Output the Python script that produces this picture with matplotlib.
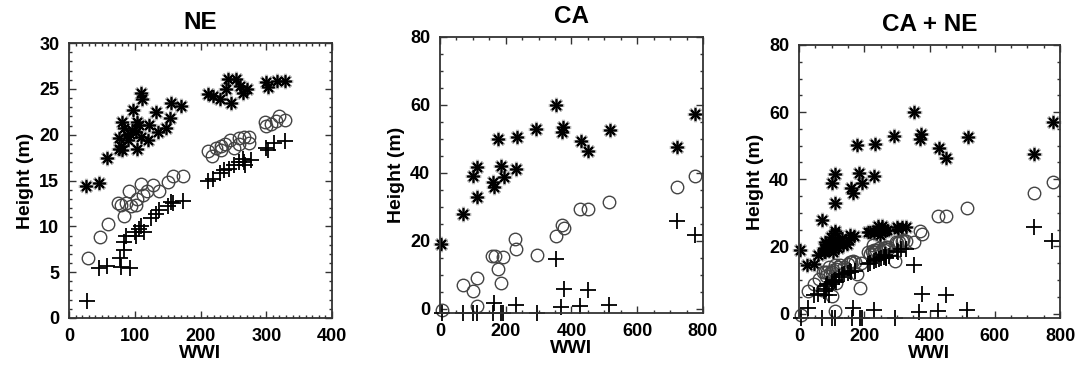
import matplotlib.pyplot as plt
from matplotlib.ticker import MultipleLocator

plt.rcParams['font.family'] = ['Liberation Sans', 'DejaVu Sans']
plt.rcParams['font.weight'] = 'bold'

# NE site
ne_star_x = [26, 45, 57, 76, 81, 104, 109, 111, 98, 132, 155, 170, 154, 148, 135, 122, 81, 84,
             107, 102, 109, 120, 76, 79, 92, 89, 96, 104, 88,
             211, 219, 229, 247, 239, 254, 260, 270, 265, 242, 300, 303, 316, 328]
ne_star_y = [14.4, 14.7, 17.5, 18.4, 18.3, 18.4, 24.6, 23.9, 22.7, 22.5, 23.5, 23.1, 21.8, 20.7, 20.3, 21.1, 21.4, 20.7,
             21.1, 20.3, 19.8, 19.4, 19.6, 18.8, 20.1, 19.4, 20.5, 21.4, 20.0,
             24.4, 24.2, 23.9, 23.5, 25.0, 26.1, 25.3, 25.0, 24.6, 26.1, 25.7, 25.2, 25.9, 25.9]
ne_circ_x = [29, 47, 60, 84, 79, 86, 91, 109, 104, 112, 102, 119, 127, 137, 150, 158, 173, 94, 74,
             211, 217, 224, 231, 237, 245, 251, 259, 266, 274, 273, 259, 231,
             300, 307, 298, 315, 328, 320]
ne_circ_y = [6.6, 8.8, 10.3, 11.1, 12.3, 12.5, 13.9, 14.6, 13.0, 13.4, 12.3, 13.9, 14.5, 13.9, 14.8, 15.5, 15.5, 12.2, 12.5,
             18.2, 17.7, 18.6, 18.3, 19.0, 19.4, 18.5, 19.6, 19.8, 19.8, 19.1, 19.0, 18.8,
             21.0, 21.2, 21.4, 21.5, 21.6, 22.0]
ne_plus_x = [28, 46, 58, 78, 79, 93, 83, 84, 86, 102, 107, 110, 101, 114, 124, 132, 137, 150, 155, 158, 173,
             211, 219, 229, 236, 244, 251, 259, 266, 264, 277, 268, 300, 302, 312, 328]
ne_plus_y = [1.8, 5.5, 5.7, 6.6, 5.6, 5.5, 7.4, 8.3, 8.9, 8.9, 9.7, 10.0, 9.4, 9.4, 10.9, 11.4, 11.8, 12.2, 12.7, 12.5, 12.8,
             14.9, 15.2, 15.8, 16.1, 16.3, 16.7, 17.0, 17.0, 17.4, 17.2, 16.7, 18.5, 18.3, 19.1, 19.3]

# CA site
ca_star_x = [3, 71, 101, 111, 111, 160, 165, 177, 185, 194, 230, 233, 291, 353, 370, 373, 428, 451, 517, 721, 777]
ca_star_y = [19, 27.8, 39.0, 41.6, 32.9, 37.3, 35.9, 50.1, 42.0, 38.8, 41.0, 50.4, 52.8, 60.0, 52.1, 53.6, 49.4, 46.4,
             52.6, 47.5, 57.2]
ca_circ_x = [5, 71, 101, 114, 111, 157, 166, 191, 177, 187, 228, 231, 294, 353, 372, 377, 426, 451, 515, 721, 777]
ca_circ_y = [-0.5, 6.9, 5.1, 9.0, 0.7, 15.5, 15.6, 15.2, 11.8, 7.6, 20.4, 17.7, 15.7, 21.3, 24.6, 23.6, 29.2, 29.2,
             31.4, 35.9, 39.1]
ca_plus_x = [5, 71, 101, 111, 162, 187, 192, 294, 165, 231, 369, 426, 515, 353, 377, 451, 721, 775]
ca_plus_y = [-1.3, -1.3, -1.3, -1.3, -1.3, -1.3, -1.3, -1.3, 1.7, 1.0, 0.5, 0.7, 1.0, 14.5, 5.9, 5.4, 25.8, 21.6]

STAR = (8, 2, 0)


def draw(ax, sx, sy, cx, cy, px, py):
    ax.plot(sx, sy, ls='none', marker=STAR, ms=11, mec='#b4b4b4', mew=2.2, clip_on=False)
    ax.plot(sx, sy, ls='none', marker=STAR, ms=9, mec='black', mew=1.2, clip_on=False)
    ax.plot(cx, cy, ls='none', marker='o', ms=9, mfc='none', mec='#444444', mew=1.0, clip_on=False)
    ax.plot(px, py, ls='none', marker='+', ms=11, mec='black', mew=1.3, clip_on=False)


def style(ax, title, xmax, xmaj, xmin, ymin, ymax, ymaj, ymnr):
    ax.set_xlim(0, xmax)
    ax.set_ylim(ymin, ymax)
    ax.xaxis.set_major_locator(MultipleLocator(xmaj))
    ax.xaxis.set_minor_locator(MultipleLocator(xmin))
    ax.yaxis.set_major_locator(MultipleLocator(ymaj))
    ax.yaxis.set_minor_locator(MultipleLocator(ymnr))
    ax.tick_params(which='both', direction='in', top=True, right=True, width=1.0, colors='#333333',
                   labelcolor='black', labelsize=13, pad=7)
    ax.tick_params(which='major', length=5)
    ax.tick_params(which='minor', length=2.5)
    for s in ax.spines.values():
        s.set_linewidth(1.3)
        s.set_color('#333333')
    ax.set_title(title, fontsize=17.5, fontweight='bold', pad=10)
    ax.set_xlabel('WWI', fontsize=14, fontweight='bold', labelpad=0)
    ax.set_ylabel('Height (m)', fontsize=14, fontweight='bold', labelpad=4)


fig = plt.figure(figsize=(10.79, 3.71), dpi=100)
ax1 = fig.add_axes([0.0640, 0.1429, 0.2437, 0.741])
ax2 = fig.add_axes([0.4078, 0.1563, 0.2437, 0.744])
ax3 = fig.add_axes([0.7405, 0.1429, 0.2419, 0.736])

draw(ax1, ne_star_x, ne_star_y, ne_circ_x, ne_circ_y, ne_plus_x, ne_plus_y)
style(ax1, 'NE', 400, 100, 10, 0, 30, 5, 1)

draw(ax2, ca_star_x, ca_star_y, ca_circ_x, ca_circ_y, ca_plus_x, ca_plus_y)
style(ax2, 'CA', 800, 200, 50, -1.3, 80, 20, 5)

draw(ax3, ne_star_x + ca_star_x, ne_star_y + ca_star_y, ne_circ_x + ca_circ_x, ne_circ_y + ca_circ_y,
     ne_plus_x + ca_plus_x, ne_plus_y + ca_plus_y)
style(ax3, 'CA + NE', 800, 200, 50, -1.3, 80, 20, 5)

fig.savefig('out.png', dpi=100)
